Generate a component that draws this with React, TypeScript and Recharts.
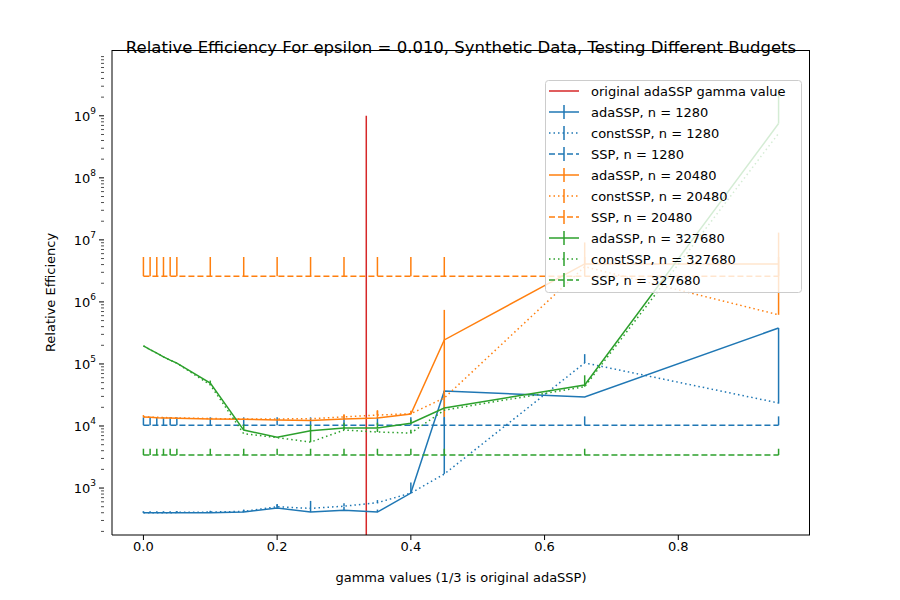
import React from 'react';
import { LineChart, Line, XAxis, YAxis, ErrorBar, Label } from 'recharts';

const gammas = [0, 0.01, 0.02, 0.03, 0.04, 0.05, 0.1, 0.15, 0.2, 0.25, 0.3, 0.35, 0.4, 0.45, 0.66, 0.95];
const adaB = [400, 400, 400, 400, 400, 400, 400, 410, 475, 410, 440, 410, 830, 36700, 29300, 380000];
const constB = [400, 400, 400, 400, 400, 405, 410, 420, 500, 470, 510, 580, 830, 1680, 104000, 23500];
const sspB = [10300, 10300, 10300, 10300, 10300, 10300, 10300, 10300, 10300, 10300, 10300, 10300, 10300, 10300, 10300, 10300];
const adaO = [14000, 13800, 13600, 13500, 13400, 13300, 13000, 12800, 12500, 12300, 13000, 13500, 15600, 244000, 4100000, 4100000];
const constO = [14000, 13900, 13800, 13700, 13600, 13500, 13200, 13000, 13000, 13100, 14000, 15000, 15800, 28300, 3700000, 620000];
const sspO = [2600000, 2600000, 2600000, 2600000, 2600000, 2600000, 2600000, 2600000, 2600000, 2600000, 2600000, 2600000, 2600000, 2600000, 2600000, 2600000];
const adaG = [195000, 170000, 150000, 130000, 115000, 103000, 49000, 8600, 6600, 8400, 9300, 9300, 11100, 19500, 45700, 750000000];
const constG = [195000, 170000, 150000, 130000, 115000, 103000, 46000, 7500, 6500, 5500, 8600, 8000, 7700, 18000, 43000, 520000000];
const sspG = [3400, 3400, 3400, 3400, 3400, 3400, 3400, 3400, 3400, 3400, 3400, 3400, 3400, 3400, 3400, 3400];
// error bars [below, above]
const adaBErr = [[0, 20], [0, 20], [0, 20], [0, 20], [0, 20], [0, 20], [0, 20], [0, 30], [0, 80], [0, 60], [0, 60], [0, 40], [0, 400], [35000, 0], [0, 0], [357000, 0]];
const constBErr = [[0, 20], [0, 20], [0, 20], [0, 20], [0, 20], [0, 20], [0, 20], [0, 30], [0, 40], [0, 150], [0, 60], [0, 60], [0, 40], [0, 40], [0, 40000], [0, 0]];
const sspBErr = [[0, 3500], [0, 3500], [0, 3500], [0, 3500], [0, 3500], [0, 3500], [0, 3500], [0, 3500], [0, 3500], [0, 3500], [0, 3500], [0, 3500], [0, 3500], [0, 3500], [0, 4000], [0, 4000]];
const adaOErr = [[0, 1000], [0, 0], [0, 0], [0, 0], [0, 0], [0, 0], [0, 0], [0, 0], [0, 0], [0, 0], [0, 2000], [0, 4000], [0, 2000], [230000, 500000], [0, 5000000], [3480000, 9000000]];
const constOErr = [[0, 0], [0, 0], [0, 0], [0, 0], [0, 0], [0, 0], [0, 0], [0, 0], [0, 0], [0, 0], [0, 1500], [0, 3000], [0, 0], [0, 6000], [0, 0], [0, 0]];
const sspOErr = [[0, 2700000], [0, 2700000], [0, 2700000], [0, 2700000], [0, 2700000], [0, 2700000], [0, 2700000], [0, 2700000], [0, 2700000], [0, 2700000], [0, 2700000], [0, 2700000], [0, 2700000], [0, 2700000], [0, 2700000], [0, 2700000]];
const adaGErr = [[0, 0], [0, 0], [0, 0], [0, 0], [0, 0], [0, 0], [0, 5000], [0, 2000], [0, 0], [0, 2000], [0, 2000], [0, 2000], [0, 1500], [0, 0], [0, 20000], [0, 1900000000]];
const constGErr = [[0, 0], [0, 0], [0, 0], [0, 0], [0, 0], [0, 0], [0, 5000], [0, 0], [0, 0], [0, 3000], [0, 1000], [0, 1000], [0, 1000], [0, 0], [0, 5000], [0, 0]];
const sspGErr = [[0, 900], [0, 900], [0, 900], [0, 900], [0, 900], [0, 900], [0, 900], [0, 900], [0, 900], [0, 900], [0, 900], [0, 900], [0, 900], [0, 900], [0, 900], [0, 900]];
const origGamma = 1 / 3;
const redLine = [{ x: origGamma, red: 175 }, { x: origGamma, red: 1e9 }];

const xTicks = [0, 0.2, 0.4, 0.6, 0.8];

const data = gammas.map((g, i) => ({
  x: g,
  adaB: adaB[i], constB: constB[i], sspB: sspB[i],
  adaO: adaO[i], constO: constO[i], sspO: sspO[i],
  adaG: adaG[i], constG: constG[i], sspG: sspG[i],
  adaBErr: adaBErr[i], constBErr: constBErr[i], sspBErr: sspBErr[i],
  adaOErr: adaOErr[i], constOErr: constOErr[i], sspOErr: sspOErr[i],
  adaGErr: adaGErr[i], constGErr: constGErr[i], sspGErr: sspGErr[i],
}));

const yTicks: number[] = [];
for (let e = 2; e <= 9; e++) for (let m = 1; m <= 9; m++) {
  const v = m * Math.pow(10, e);
  if (v >= 175 && v <= 1.1e10) yTicks.push(v);
}

const BLUE = '#1f77b4', ORANGE = '#ff7f0e', GREEN = '#2ca02c', RED = '#d62728';
const FONT = 'DejaVu Sans';

const YTick = (props: any) => {
  const { x, y, payload } = props;
  const v = payload.value;
  const exp = Math.round(Math.log10(v));
  const isMajor = Math.abs(Math.pow(10, exp) - v) < 1e-6 * v;
  return (
    <g>
      <line x1={x} x2={x - (isMajor ? 5 : 3)} y1={y} y2={y} stroke="#000" strokeWidth={isMajor ? 1 : 0.7} />
      {isMajor && (
        <text x={x - 8} y={y + 5} textAnchor="end" fontFamily={FONT} fontSize={13} fill="#000">
          10<tspan dy={-7} fontSize={9}>{exp}</tspan>
        </text>
      )}
    </g>
  );
};

const legendItems = [
  { name: 'original adaSSP gamma value', color: RED, dash: '', bar: false },
  { name: 'adaSSP, n = 1280', color: BLUE, dash: '', bar: true },
  { name: 'constSSP, n = 1280', color: BLUE, dash: '1.5 3', bar: true },
  { name: 'SSP, n = 1280', color: BLUE, dash: '6 3', bar: true },
  { name: 'adaSSP, n = 20480', color: ORANGE, dash: '', bar: true },
  { name: 'constSSP, n = 20480', color: ORANGE, dash: '1.5 3', bar: true },
  { name: 'SSP, n = 20480', color: ORANGE, dash: '6 3', bar: true },
  { name: 'adaSSP, n = 327680', color: GREEN, dash: '', bar: true },
  { name: 'constSSP, n = 327680', color: GREEN, dash: '1.5 3', bar: true },
  { name: 'SSP, n = 327680', color: GREEN, dash: '6 3', bar: true },
];

const LegendBox = () => (
  <svg width={258} height={214} style={{ display: 'block' }}>
    <rect x={0.5} y={0.5} width={256} height={212} rx={3} fill="rgba(255,255,255,0.8)" stroke="#ccc" />
    {legendItems.map((it, i) => {
      const cy = 11 + i * 21;
      return (
        <g key={i}>
          <line x1={4} x2={34} y1={cy} y2={cy} stroke={it.color} strokeWidth={1.5} strokeDasharray={it.dash} />
          {it.bar && <line x1={19} x2={19} y1={cy - 7} y2={cy + 7} stroke={it.color} strokeWidth={1.5} />}
          <text x={46} y={cy + 5} fontFamily={FONT} fontSize={13} fill="#000">{it.name}</text>
        </g>
      );
    })}
  </svg>
);

const series = [
  { key: 'adaB', color: BLUE, dash: '' }, { key: 'constB', color: BLUE, dash: '1.5 3' }, { key: 'sspB', color: BLUE, dash: '6 3' },
  { key: 'adaO', color: ORANGE, dash: '' }, { key: 'constO', color: ORANGE, dash: '1.5 3' }, { key: 'sspO', color: ORANGE, dash: '6 3' },
  { key: 'adaG', color: GREEN, dash: '' }, { key: 'constG', color: GREEN, dash: '1.5 3' }, { key: 'sspG', color: GREEN, dash: '6 3' },
];

export default function App() {
  return (
    <div style={{ position: 'relative', width: 900, height: 600, margin: -8, background: '#fff', fontFamily: FONT }}>
      <div style={{ position: 'absolute', top: 38, width: 900, left: 11, textAlign: 'center', fontSize: 16.5 }}>
        Relative Efficiency For epsilon = 0.010, Synthetic Data, Testing Different Budgets
      </div>
      <LineChart width={900} height={600} data={data} margin={{ top: 50, right: 90, left: 0, bottom: 0 }}>
        <XAxis dataKey="x" type="number" domain={[-0.047, 0.997]} ticks={xTicks} allowDataOverflow
          tickFormatter={(v: number) => v.toFixed(1)} height={65} stroke="#000"
          tick={{ fill: '#000', fontSize: 13, fontFamily: FONT }} tickSize={5}>
          <Label value="gamma values (1/3 is original adaSSP)" position="insideBottom" offset={18} fill="#000" fontSize={13} fontFamily={FONT} />
        </XAxis>
        <YAxis type="number" scale="log" domain={[175, 1.15e10]} ticks={yTicks} allowDataOverflow
          width={112} stroke="#000" tickLine={false} tick={<YTick />} interval={0}>
          <Label value="Relative Efficiency" angle={-90} position="insideLeft" offset={50} fill="#000" fontSize={13} fontFamily={FONT} style={{ textAnchor: 'middle' }} />
        </YAxis>
        <Line data={redLine} dataKey="red" stroke={RED} strokeWidth={1.5} dot={false} isAnimationActive={false} legendType="none" />
        {series.map((s) => (
          <Line key={s.key} dataKey={s.key} stroke={s.color} strokeWidth={1.5} strokeDasharray={s.dash}
            dot={false} isAnimationActive={false}>
            <ErrorBar dataKey={s.key + 'Err'} width={0} stroke={s.color} strokeWidth={1.5} direction="y" />
          </Line>
        ))}
      </LineChart>
      <div style={{ position: 'absolute', left: 112, top: 50, width: 698, height: 485, borderTop: '1px solid #000', borderRight: '1px solid #000', boxSizing: 'border-box', pointerEvents: 'none' }} />
      <div style={{ position: 'absolute', left: 545, top: 80 }}>
        <LegendBox />
      </div>
    </div>
  );
}
